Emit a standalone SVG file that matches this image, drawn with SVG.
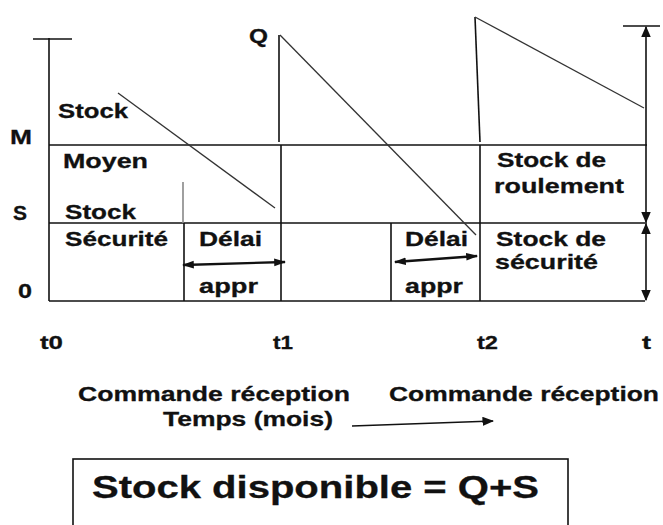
<svg xmlns="http://www.w3.org/2000/svg" width="663" height="525" viewBox="0 0 663 525">
<style>
.ln{stroke:#111;stroke-width:1.6;fill:none}
.dg{stroke:#333;stroke-width:1.3;fill:none}
.ar{stroke:#111;stroke-width:2.4;fill:none;marker-start:url(#ah);marker-end:url(#ah)}
.ar2{stroke:#111;stroke-width:1.6;fill:none;marker-start:url(#ah2);marker-end:url(#ah2)}
text{font-family:"Liberation Sans",Arial,sans-serif;font-weight:bold;font-size:21px;fill:#111;stroke:#111;stroke-width:0.3}
.sm{font-size:19px}
.big{font-size:32px}
</style>
<defs>
<marker id="ah" viewBox="0 0 10 10" refX="9" refY="5" markerWidth="5" markerHeight="4" orient="auto-start-reverse" markerUnits="strokeWidth" preserveAspectRatio="none"><path d="M0,1 L10,5 L0,9 z" fill="#111"/></marker>
<marker id="ah2" viewBox="0 0 10 10" refX="9" refY="5" markerWidth="7" markerHeight="6" orient="auto-start-reverse" markerUnits="strokeWidth" preserveAspectRatio="none"><path d="M0,0 L10,5 L0,10 z" fill="#111"/></marker>
<marker id="ah3" viewBox="0 0 10 10" refX="9" refY="5" markerWidth="9" markerHeight="7" orient="auto" markerUnits="strokeWidth" preserveAspectRatio="none"><path d="M0,0 L10,5 L0,10 z" fill="#111"/></marker>
</defs>
<rect width="663" height="525" fill="#fff"/>
<g id="connectors">
<line class="ln" x1="49" y1="38" x2="49" y2="301"/>
<line class="ln" x1="33" y1="39" x2="72" y2="39"/>
<line class="ln" x1="49" y1="145" x2="647" y2="145"/>
<line class="ln" x1="49" y1="223" x2="647" y2="223"/>
<line class="ln" x1="49" y1="301" x2="645" y2="301"/>
<line stroke="#888" stroke-width="1.6" x1="183" y1="182" x2="183" y2="223"/>
<line class="ln" x1="184" y1="223" x2="184" y2="301"/>
<line class="ln" x1="281" y1="145" x2="281" y2="301"/>
<line class="ln" x1="279" y1="35" x2="279" y2="142"/>
<line class="ln" x1="391" y1="223" x2="391" y2="301"/>
<line class="ln" x1="480" y1="145" x2="480" y2="301"/>
<line class="ln" x1="475" y1="17" x2="480" y2="142"/>
<line class="dg" x1="118" y1="93" x2="275" y2="208"/>
<line class="dg" x1="280" y1="35" x2="476" y2="235"/>
<line class="dg" x1="475" y1="17" x2="644" y2="108"/>
<line class="ln" x1="623" y1="26" x2="660" y2="26"/>
<line class="ar2" x1="646" y1="27" x2="646" y2="222"/>
<line class="ar2" x1="646" y1="224" x2="646" y2="300"/>
<line class="ar" x1="183" y1="265" x2="285" y2="262"/>
<line class="ar" x1="395" y1="262" x2="477" y2="256"/>
<line stroke="#111" stroke-width="1.3" x1="352" y1="426" x2="493" y2="421" marker-end="url(#ah3)"/>
</g>
<g id="axis-labels">
<text x="249" y="43" textLength="19" lengthAdjust="spacingAndGlyphs">Q</text>
<text x="10" y="144" textLength="22" lengthAdjust="spacingAndGlyphs">M</text>
<text x="13" y="220" textLength="14" lengthAdjust="spacingAndGlyphs">S</text>
<text x="18" y="298" textLength="14" lengthAdjust="spacingAndGlyphs">0</text>
</g>
<g id="stock-moyen">
<text x="58" y="118" textLength="70" lengthAdjust="spacingAndGlyphs">Stock</text>
<text x="63" y="168" textLength="85" lengthAdjust="spacingAndGlyphs">Moyen</text>
</g>
<g id="stock-securite">
<text x="65" y="219" textLength="71" lengthAdjust="spacingAndGlyphs">Stock</text>
<text x="65" y="246" textLength="103" lengthAdjust="spacingAndGlyphs">Sécurité</text>
</g>
<g id="delai-1">
<text x="199" y="246" textLength="63" lengthAdjust="spacingAndGlyphs">Délai</text>
<text x="199" y="293" textLength="59" lengthAdjust="spacingAndGlyphs">appr</text>
</g>
<g id="delai-2">
<text x="405" y="246" textLength="63" lengthAdjust="spacingAndGlyphs">Délai</text>
<text x="405" y="293" textLength="58" lengthAdjust="spacingAndGlyphs">appr</text>
</g>
<g id="stock-roulement">
<text x="497" y="167" textLength="109" lengthAdjust="spacingAndGlyphs">Stock de</text>
<text x="494" y="193" textLength="130" lengthAdjust="spacingAndGlyphs">roulement</text>
</g>
<g id="stock-securite-2">
<text x="496" y="246" textLength="110" lengthAdjust="spacingAndGlyphs">Stock de</text>
<text x="495" y="269" textLength="103" lengthAdjust="spacingAndGlyphs">sécurité</text>
</g>
<g id="time-labels">
<text class="sm" x="40" y="349" textLength="23" lengthAdjust="spacingAndGlyphs">t0</text>
<text class="sm" x="273" y="349" textLength="20" lengthAdjust="spacingAndGlyphs">t1</text>
<text class="sm" x="477" y="349" textLength="21" lengthAdjust="spacingAndGlyphs">t2</text>
<text class="sm" x="642" y="349" textLength="9" lengthAdjust="spacingAndGlyphs">t</text>
</g>
<g id="commande-labels">
<text x="78" y="401" textLength="272" lengthAdjust="spacingAndGlyphs">Commande réception</text>
<text x="389" y="401" textLength="270" lengthAdjust="spacingAndGlyphs">Commande réception</text>
<text x="163" y="426" textLength="170" lengthAdjust="spacingAndGlyphs">Temps (mois)</text>
</g>
<g id="formula">
<rect x="73" y="459" width="495" height="75" fill="none" stroke="#111" stroke-width="1.6"/>
<text class="big" x="92" y="498" textLength="447" lengthAdjust="spacingAndGlyphs">Stock disponible = Q+S</text>
</g>
</svg>
